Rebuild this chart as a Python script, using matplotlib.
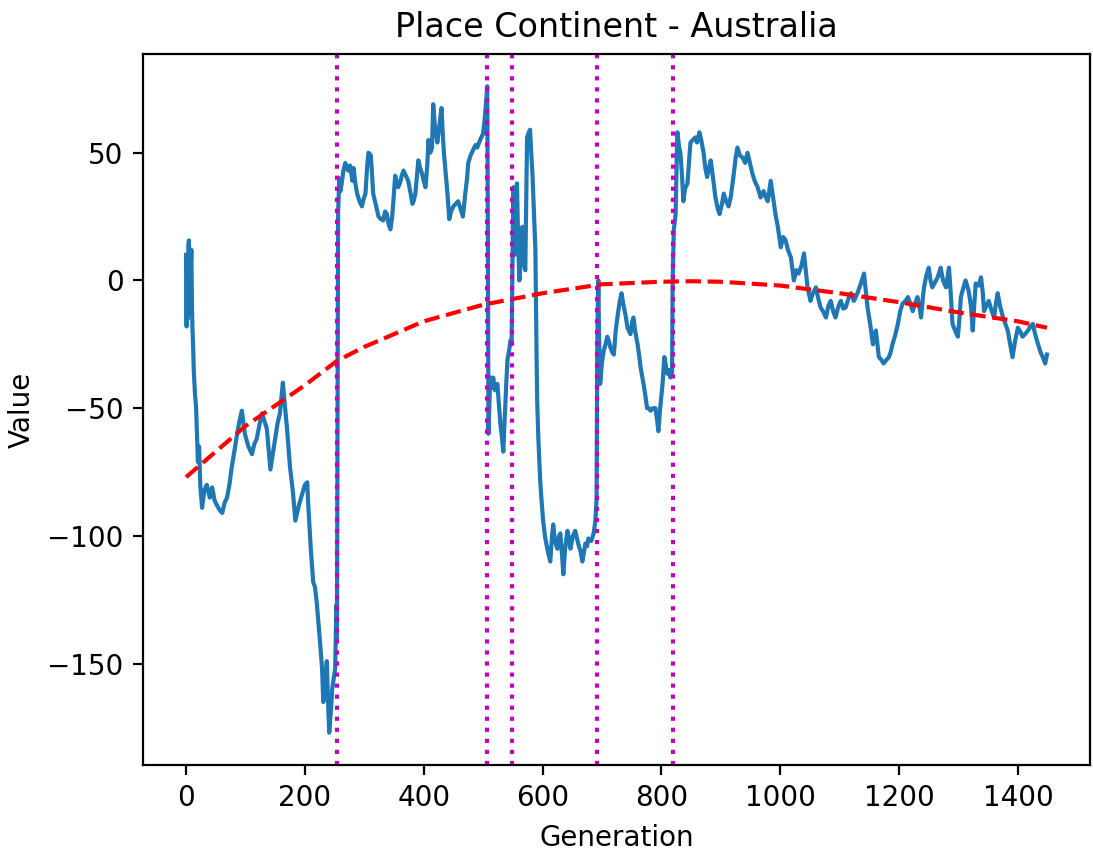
import numpy as np
import matplotlib
matplotlib.use("Agg")
import matplotlib.pyplot as plt

# value per generation (sampled points along the run)
gen = [0, 1, 2, 3, 4, 5, 6, 7, 8, 9, 10, 11, 12, 13, 15, 17, 20, 22, 24, 27,
       31, 35, 40, 44, 48, 52, 57, 61, 65, 69, 73, 77, 82, 86, 90, 94, 99, 105, 111, 115,
       119, 124, 128, 132, 136, 139, 142, 146, 150, 154, 158, 163, 166, 170, 175, 180, 184, 190, 195, 200,
       204, 206, 210, 214, 217, 220, 225, 229, 231, 234, 237, 239, 241, 244, 246, 249, 251, 253, 254, 256,
       258, 260, 262, 265, 268, 273, 276, 280, 282, 285, 288, 292, 296, 299, 302, 305, 307, 311, 313, 315,
       319, 324, 328, 332, 335, 338, 341, 344, 347, 349, 352, 355, 357, 360, 363, 366, 370, 374, 378, 381,
       383, 386, 389, 391, 394, 397, 400, 403, 406, 408, 411, 414, 416, 419, 423, 426, 430, 432, 434, 437,
       440, 443, 446, 450, 454, 458, 462, 466, 470, 473, 475, 479, 483, 487, 490, 495, 500, 503, 505, 507,
       508, 509, 511, 512, 515, 517, 520, 524, 527, 529, 531, 534, 536, 537, 539, 541, 544, 546, 548, 550,
       551, 553, 555, 557, 559, 561, 563, 565, 566, 568, 571, 573, 574, 577, 579, 581, 583, 585, 588, 590,
       591, 593, 596, 598, 601, 604, 608, 611, 613, 616, 618, 621, 625, 628, 630, 633, 635, 638, 642, 645,
       647, 651, 655, 658, 660, 664, 667, 670, 672, 675, 677, 682, 686, 689, 691, 692, 693, 694, 695, 697,
       700, 703, 706, 709, 712, 714, 717, 720, 723, 726, 730, 733, 735, 737, 740, 743, 746, 748, 751, 753,
       756, 760, 763, 765, 768, 770, 773, 776, 779, 782, 786, 790, 793, 795, 798, 802, 805, 808, 810, 813,
       815, 818, 819, 821, 824, 826, 827, 830, 832, 835, 837, 840, 844, 847, 849, 853, 857, 860, 864, 867,
       871, 874, 877, 880, 883, 887, 891, 895, 898, 902, 905, 909, 913, 917, 922, 925, 928, 932, 937, 941,
       945, 949, 953, 957, 962, 967, 972, 975, 979, 984, 989, 992, 996, 1001, 1005, 1009, 1013, 1018, 1023, 1027,
       1031, 1036, 1040, 1043, 1046, 1051, 1055, 1060, 1064, 1068, 1072, 1077, 1081, 1085, 1089, 1093, 1098, 1102, 1106, 1110,
       1115, 1119, 1124, 1130, 1136, 1141, 1144, 1147, 1152, 1156, 1158, 1161, 1164, 1166, 1170, 1174, 1179, 1183, 1186, 1189,
       1194, 1198, 1202, 1206, 1211, 1215, 1219, 1223, 1227, 1231, 1234, 1237, 1240, 1242, 1246, 1250, 1253, 1256, 1260, 1265,
       1270, 1274, 1279, 1282, 1284, 1287, 1290, 1295, 1299, 1302, 1304, 1308, 1312, 1317, 1321, 1324, 1327, 1329, 1334, 1338,
       1341, 1343, 1347, 1351, 1356, 1360, 1363, 1366, 1370, 1375, 1379, 1383, 1387, 1391, 1395, 1400, 1404, 1408, 1412, 1417,
       1421, 1425, 1429, 1434, 1438, 1442, 1446, 1449]
value = [10, -18, 8, -15, 14, 15.7, -10, 12, 5, 12, -10, -20, -26, -35, -44, -50, -71, -65, -80, -89,
         -82, -80, -85, -81, -86, -88, -90, -91, -87, -85, -80, -73, -66, -60, -55, -51, -60, -65, -68, -64,
         -62, -56, -52, -55, -58, -66, -74, -68, -62, -56, -52, -40, -48, -58, -73, -83, -94, -88, -84, -80,
         -79, -89, -105, -118, -120, -126, -140, -152, -165, -158, -149, -165, -177, -168, -160, -155, -152, -127, -140, 27,
         40, 35, 38, 43, 46, 43, 45, 39, 44, 38, 34, 31, 29, 32, 34, 45, 50, 49, 42, 34,
         30, 25, 24, 23.5, 27, 26, 22, 20, 25, 31, 41, 38, 36.5, 38, 41, 43, 41, 39, 34, 30,
         31, 34, 42, 47, 44, 42, 39, 36.5, 45, 55, 50, 52, 69, 60, 54, 60, 67.5, 58, 50, 42,
         34, 24, 27, 29, 30, 31, 28, 25, 34, 40, 46, 49, 51, 53, 52, 55, 57.5, 64, 70, 76,
         20, -60, -45, -38, -42, -38, -43, -40.5, -50, -56, -60, -67, -55, -51, -40, -31, -27, -23.5, -25, 20,
         36.5, 10, 30, 38, 15, 0, 6.5, 15, 21, 8, 4, 40, 56, 58, 59, 50, 42, 30, 12, -30,
         -47, -62, -78, -85, -94, -100, -105, -108, -110, -100, -95.5, -102, -105, -100, -99, -108, -115, -105, -98, -102,
         -105, -100, -98, -101, -103, -106, -110, -106, -103, -104, -101, -102, -99, -94, -85, -30, -10, 0, -20, -40.5,
         -32, -27.5, -25, -22, -24, -26, -28, -29, -20, -14.5, -8, -5, -8, -10.5, -14, -18.5, -20, -21, -16, -14.5,
         -20, -25, -30, -34, -38, -40.5, -45, -50, -50, -51, -50, -50, -55, -59, -50, -40.5, -30, -34, -36.5, -35,
         -38, -36, 0, 20, 26, 50, 58, 52, 50, 40, 31, 36, 38, 48, 54, 55, 56, 54, 58, 55,
         50, 44, 40.5, 44, 47, 40, 32.5, 28, 26, 30, 34, 31, 29, 33, 42, 48, 52, 49, 48, 46,
         50, 46, 42, 39, 36.5, 32.5, 35, 33, 31, 39, 31, 26, 21, 13, 17, 15.7, 12, 9, 0, 4,
         2.7, 6, 10.6, 4, -2.7, -8, -5, -2.7, -7, -10.6, -12, -14.5, -10, -8, -12, -14.5, -10, -8, -11, -10.6,
         -7, -5, -8, -5, -1, 2.7, -4, -10.6, -18, -25, -22, -19.6, -26, -30, -31, -32.5, -31, -30, -28, -25,
         -21, -17, -12, -9, -8, -6.5, -9, -12, -9, -6.5, -10, -14.5, -7, -2.7, 2, 5, 0, -2.7, -1, 1.2,
         5, 0, -2.7, 2, 5, -5, -17, -20, -22, -14, -6.5, -3, 0, -4, -10, -19.6, -8, -1.2, -2, 1.2,
         -5, -12, -10, -8, -12, -14.5, -9, -5, -10, -14.5, -17, -19.6, -25, -30, -24, -18.5, -20, -22, -21, -19.6,
         -18, -17, -21, -25, -28, -30, -32.5, -29]

# trend curve
trend_gen = [0, 100, 200, 254, 300, 400, 500, 600, 700, 800, 850, 900, 1000, 1100, 1200, 1300, 1400, 1449]
trend_val = [-77, -57, -41, -31.5, -26, -16, -9.5, -5, -1.5, -0.5, -0.3, -0.5, -2, -5, -8.5, -12.5, -16, -18.5]

# generations where the place changed
switches = [254, 507, 549, 692, 819]

fig = plt.figure(figsize=(5.465, 4.25), dpi=200)
ax = fig.add_axes([0.1308, 0.1, 0.8665, 0.8365])

ax.plot(gen, value)
ax.plot(trend_gen, trend_val, 'r--')
for s in switches:
    ax.axvline(s, color='m', linestyle=':')

ax.set_xlabel('Generation')
ax.set_ylabel('Value')
ax.set_title('Place Continent - Australia')

fig.savefig('out.png', dpi=200)
